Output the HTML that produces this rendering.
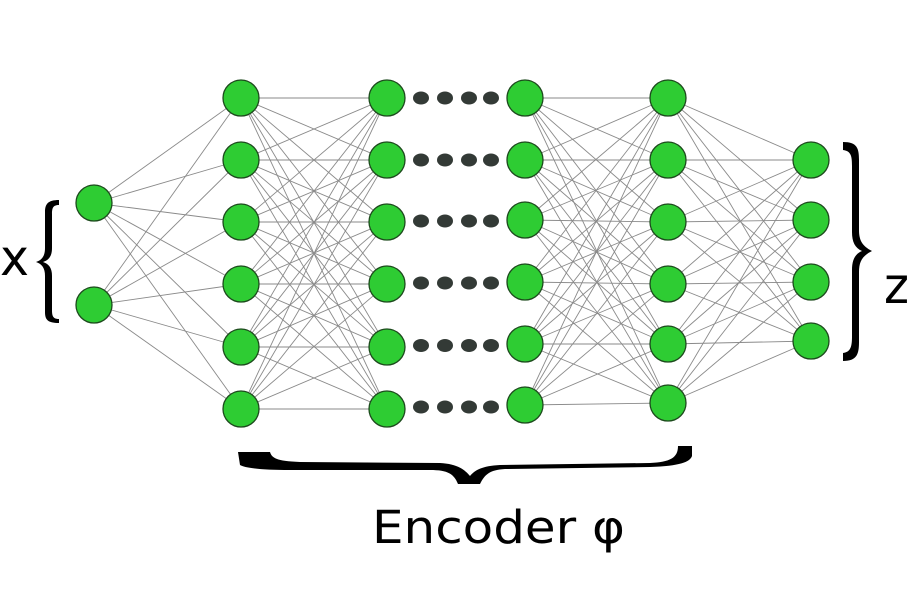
<!DOCTYPE html>
<html><head><meta charset="utf-8"><style>
html,body{margin:0;padding:0;background:#fff;width:920px;height:606px;overflow:hidden}
svg{display:block}
</style></head><body>
<svg id="s" width="920" height="606" viewBox="0 0 920 606" xmlns="http://www.w3.org/2000/svg">
<g id="edges" stroke="#8a8a8a" stroke-width="0.9"></g>
<g id="dots" fill="#333a36"></g>
<g id="nodes" fill="#2ecc33" stroke="#1d4a1d" stroke-width="1.3"></g>
<path d="M59,200 C48,200 45,204 45,212 L45,248 C45,256 42,260 36,262 C42,264 45,268 45,276 L45,312 C45,320 48,323 59,323 L59,319 C53,319 52,316 52,310 L52,276 C52,268 49,264 43,262 C49,260 52,256 52,248 L52,214 C52,208 53,205 59,205 Z" fill="#000"/>
<path d="M843,142 L843,150 C851,151 852,156 852,166 L852,232 C852,242 855,248 862,251 C855,254 852,260 852,270 L852,336 C852,346 851,352 843,353 L843,361 C857,361 859,354 859,342 L859,272 C859,262 862,256 872,251 C862,246 859,240 859,230 L859,160 C859,148 857,142 843,142 Z" fill="#000"/>
<path d="M238,452 L270,452 C272,458 276,461 300,462 L440,463 C458,464 465,470 470,476 C475,470 482,466 500,465 L650,463 C670,462 678,458 678,446 L692,446 L692,456 C690,462 680,466 650,467 L505,469 C490,470 485,474 480,484 L458,484 C454,474 448,470 430,470 L290,470 C262,470 245,468 240,465 Z" fill="#000"/>
<text x="0" y="275" font-family="DejaVu Sans, Liberation Sans, sans-serif" font-size="50" textLength="29" lengthAdjust="spacingAndGlyphs" fill="#000">x</text>
<text x="884" y="303" font-family="DejaVu Sans, Liberation Sans, sans-serif" font-size="50" textLength="25" lengthAdjust="spacingAndGlyphs" fill="#000">z</text>
<text x="372" y="543" font-family="DejaVu Sans, Liberation Sans, sans-serif" font-size="45" textLength="253" lengthAdjust="spacingAndGlyphs" fill="#000">Encoder φ</text>
</svg>
<script>
var L=[
 {x:94,y:[203,305]},
 {x:241,y:[98,160,222,284,347,409]},
 {x:387,y:[98,160,222,284,347,409]},
 {x:525,y:[98,160,220,282,344,405]},
 {x:668,y:[98,160,222,284,344,403]},
 {x:811,y:[160,220,282,341]}
];
var NS="http://www.w3.org/2000/svg";
function el(t,a,p){var e=document.createElementNS(NS,t);for(var k in a)e.setAttribute(k,a[k]);document.getElementById(p).appendChild(e);}
for(var i=0;i<L.length-1;i++){if(i==2)continue;
 L[i].y.forEach(function(a){L[i+1].y.forEach(function(b){el("line",{x1:L[i].x,y1:a,x2:L[i+1].x,y2:b},"edges");});});}
L.forEach(function(l){l.y.forEach(function(y){el("circle",{cx:l.x,cy:y,r:18},"nodes");});});
for(var r=0;r<6;r++){var y=(L[2].y[r]+L[3].y[r])/2;[421,445,469,491].forEach(function(x){el("ellipse",{cx:x,cy:y,rx:8,ry:6.5},"dots");});}
</script>
</body></html>
